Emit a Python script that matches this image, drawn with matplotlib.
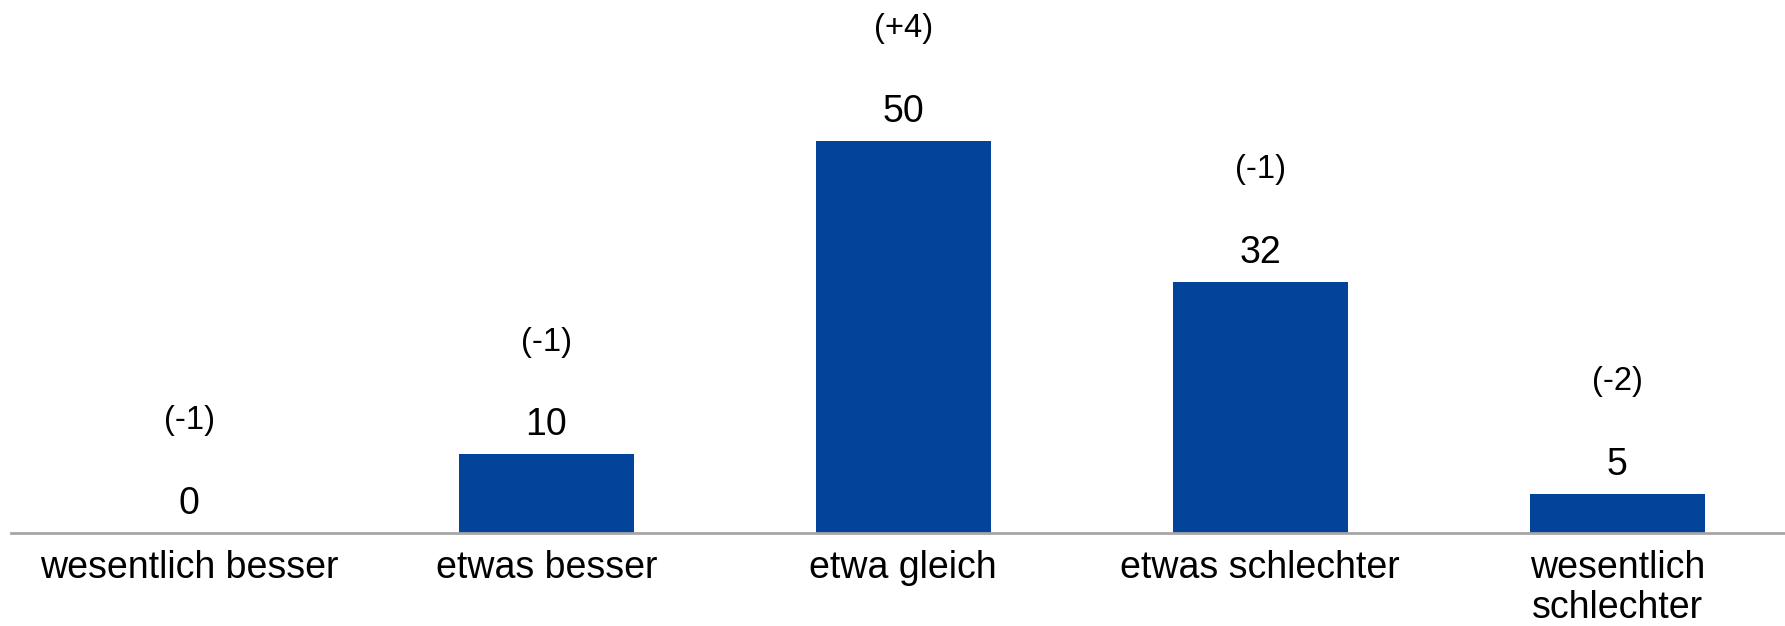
import matplotlib
matplotlib.use("Agg")
import matplotlib.pyplot as plt

categories = ["wesentlich besser", "etwas besser", "etwa gleich", "etwas schlechter", "wesentlich\nschlechter"]
values = [0, 10, 50, 32, 5]
changes = ["(-1)", "(-1)", "(+4)", "(-1)", "(-2)"]

plt.rcParams['font.family'] = ['Liberation Sans', 'DejaVu Sans']

fig = plt.figure(figsize=(17.85, 6.26), dpi=100)
ax = fig.add_axes([0.006, 0.1486, 0.994, 0.8514])

x = list(range(len(categories)))
bars = ax.bar(x, values, width=0.49, color='#03449A', zorder=2)

ax.set_xlim(-0.5, 4.47)
ax.set_ylim(0, 67.9)

for xi, v, c in zip(x, values, changes):
    ax.annotate(str(v), (xi, v), xytext=(0, 29), textcoords='offset pixels',
                ha='center', va='center', fontsize=27, color='black')
    ax.annotate(c, (xi, v), xytext=(0, 112), textcoords='offset pixels',
                ha='center', va='center', fontsize=23.5, color='black')

for s in ['top', 'right', 'left']:
    ax.spines[s].set_visible(False)
ax.spines['bottom'].set_color('#A6A6A6')
ax.spines['bottom'].set_linewidth(2)
ax.set_yticks([])
ax.set_xticks(x)
ax.set_xticklabels(categories, fontsize=27, linespacing=1.17)
ax.tick_params(axis='x', length=0, pad=12)

fig.savefig("out.png", dpi=100)
